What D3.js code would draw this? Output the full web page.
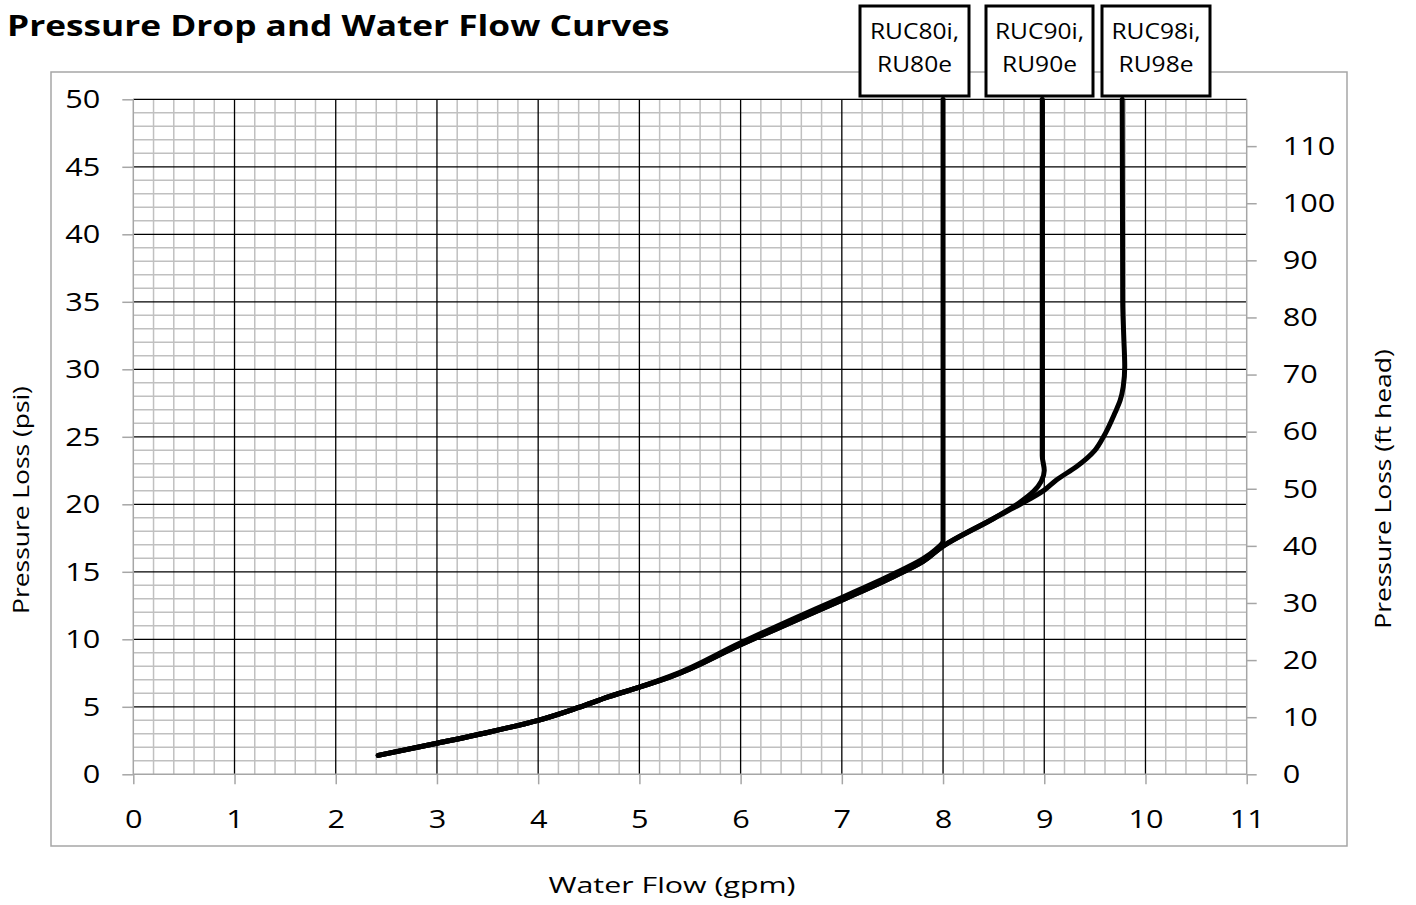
<!DOCTYPE html>
<html>
<head>
<meta charset="utf-8">
<script src="https://cdn.jsdelivr.net/npm/d3@7"></script>
<style>
  body { margin: 0; background: #fff; }
  svg { display: block; font-family: "Open Sans", sans-serif; }
</style>
</head>
<body>
<svg id="chart" width="1416" height="905"></svg>
<script>
// Axis ticks
const flowTicks = [0, 1, 2, 3, 4, 5, 6, 7, 8, 9, 10, 11];
const psiTicks = [0, 5, 10, 15, 20, 25, 30, 35, 40, 45, 50];
const headTicks = [0, 10, 20, 30, 40, 50, 60, 70, 80, 90, 100, 110];

// Model labels
const modelLabels = [["RUC80i,", "RU80e"], ["RUC90i,", "RU90e"], ["RUC98i,", "RU98e"]];

// RUC80i / RU80e : flow (gpm) and pressure loss (psi)
const ruc80Flow = [2.42, 3.0, 3.5, 4.0, 4.4, 4.7, 5.0, 5.3, 6.0, 6.5, 7.0, 7.5, 7.8, 7.92, 8.0, 8.0, 8.0];
const ruc80Psi  = [1.4, 2.3, 3.1, 4.0, 4.95, 5.75, 6.45, 7.25, 9.75, 11.45, 13.1, 14.8, 15.95, 16.6, 17.3, 18.5, 50];

// RUC90i / RU90e
const ruc90Flow = [2.42, 3.0, 3.5, 4.0, 4.4, 4.7, 5.0, 5.3, 6.0, 6.5, 7.0, 7.5, 7.8, 8.0, 8.5, 8.75, 8.9, 8.97, 9.0, 8.98, 8.98];
const ruc90Psi  = [1.4, 2.3, 3.1, 4.0, 4.95, 5.75, 6.45, 7.2, 9.6, 11.25, 12.9, 14.6, 15.75, 16.9, 18.95, 20.1, 21.0, 21.7, 22.5, 23.6, 50];

// RUC98i / RU98e
const ruc98Flow = [2.42, 3.0, 3.5, 4.0, 4.4, 4.7, 5.0, 5.3, 6.0, 6.5, 7.0, 7.5, 7.8, 8.0, 8.5, 8.75, 9.0, 9.12, 9.32, 9.5, 9.585, 9.7, 9.75, 9.78, 9.795, 9.785, 9.775, 9.77];
const ruc98Psi  = [1.4, 2.3, 3.1, 4.0, 4.95, 5.75, 6.45, 7.2, 9.6, 11.25, 12.9, 14.6, 15.75, 16.9, 18.95, 19.95, 21.05, 21.8, 22.8, 24.0, 25.0, 26.8, 27.7, 28.7, 30.2, 32.5, 35.0, 50];

const seriesList = [
  { flow: ruc80Flow, psi: ruc80Psi },
  { flow: ruc90Flow, psi: ruc90Psi },
  { flow: ruc98Flow, psi: ruc98Psi }
];

const svg = d3.select("#chart");

// Plot area geometry
const plot = { left: 133.3, right: 1246.7, top: 99.3, bottom: 774.3 };

const x = d3.scaleLinear().domain([0, 11]).range([plot.left, plot.right]);
const y = d3.scaleLinear().domain([0, 50]).range([plot.bottom, plot.top]);
// Right axis: feet of head
const yHead = d3.scaleLinear().domain([0, 118.2]).range([plot.bottom, plot.top]);

// Widen a text element horizontally about its own anchor point
function widen(sel, sx) {
  sel.each(function() {
    const t = d3.select(this);
    const tx = +t.attr("x") || 0;
    const ty = +t.attr("y") || 0;
    const base = t.attr("data-base") || "";
    t.attr("x", 0).attr("y", 0)
      .attr("transform", `${base} translate(${tx},${ty}) scale(${sx},1)`);
  });
}

// Chart frame
svg.append("rect")
  .attr("x", 51).attr("y", 72).attr("width", 1296).attr("height", 774)
  .attr("fill", "#fff").attr("stroke", "#a6a6a6").attr("stroke-width", 1.5);

// Title
svg.append("text")
  .attr("x", 7).attr("y", 36)
  .attr("font-size", 28).attr("font-weight", 700)
  .text("Pressure Drop and Water Flow Curves")
  .call(widen, 1.26);

const grid = svg.append("g");

// Minor gridlines
const minorFlow = d3.range(1, 55).map(i => i * 0.2).filter(v => Math.abs(v - Math.round(v)) > 1e-6);
const minorPsi = d3.range(1, 50).filter(v => v % 5 !== 0);

grid.selectAll(".mv").data(minorFlow).join("line")
  .attr("x1", d => x(d)).attr("x2", d => x(d))
  .attr("y1", y(0)).attr("y2", y(50))
  .attr("stroke", "#c0c0c0").attr("stroke-width", 1.5);

grid.selectAll(".mh").data(minorPsi).join("line")
  .attr("x1", x(0)).attr("x2", x(11))
  .attr("y1", d => y(d)).attr("y2", d => y(d))
  .attr("stroke", "#c0c0c0").attr("stroke-width", 1.5);

// Major gridlines
grid.selectAll(".Mv").data(flowTicks.filter(d => d > 0 && d < 11)).join("line")
  .attr("x1", d => x(d)).attr("x2", d => x(d))
  .attr("y1", y(0)).attr("y2", y(50))
  .attr("stroke", "#000").attr("stroke-width", 1.3);

grid.selectAll(".Mh").data(psiTicks.filter(d => d > 0)).join("line")
  .attr("x1", x(0)).attr("x2", x(11))
  .attr("y1", d => y(d)).attr("y2", d => y(d))
  .attr("stroke", "#000").attr("stroke-width", 1.3);

// Axes
function styleAxis(g) {
  g.select(".domain").remove();
  g.selectAll(".tick line").attr("stroke", "#a6a6a6").attr("stroke-width", 1.5);
  g.selectAll(".tick text")
    .attr("font-family", "Open Sans, sans-serif").attr("font-size", 26).attr("fill", "#000")
    .call(widen, 1.18);
}

const axisLine = (x1, y1, x2, y2) => svg.append("line")
  .attr("x1", x1).attr("y1", y1).attr("x2", x2).attr("y2", y2)
  .attr("stroke", "#a6a6a6").attr("stroke-width", 1.5);

axisLine(x(0), y(0), x(11), y(0));
axisLine(x(0), y(0), x(0), y(50));
axisLine(x(11), y(0), x(11), y(50));

svg.append("g").attr("transform", `translate(0,${plot.bottom})`)
  .call(d3.axisBottom(x).tickValues(flowTicks).tickSize(10).tickPadding(25).tickFormat(d3.format("d")))
  .call(styleAxis);

svg.append("g").attr("transform", `translate(${plot.left},0)`)
  .call(d3.axisLeft(y).tickValues(psiTicks).tickSize(11).tickPadding(22).tickFormat(d3.format("d")))
  .call(styleAxis);

svg.append("g").attr("transform", `translate(${plot.right},0)`)
  .call(d3.axisRight(yHead).tickValues(headTicks).tickSize(10).tickPadding(26).tickFormat(d3.format("d")))
  .call(styleAxis);

// Axis titles
svg.append("text")
  .attr("x", 672).attr("y", 893).attr("text-anchor", "middle")
  .attr("font-size", 22).text("Water Flow (gpm)")
  .call(widen, 1.38);

svg.append("text")
  .attr("data-base", "translate(29,500) rotate(-90)").attr("text-anchor", "middle")
  .attr("font-size", 22).text("Pressure Loss (psi)")
  .call(widen, 1.2);

svg.append("text")
  .attr("data-base", "translate(1391,489) rotate(-90)").attr("text-anchor", "middle")
  .attr("font-size", 22).text("Pressure Loss (ft head)")
  .call(widen, 1.2);

// Curves
const line = d3.line()
  .x(d => x(d[0])).y(d => y(d[1]))
  .curve(d3.curveMonotoneY);

svg.append("g").selectAll("path").data(seriesList).join("path")
  .attr("d", s => line(s.flow.map((f, i) => [f, s.psi[i]])))
  .attr("fill", "none").attr("stroke", "#000").attr("stroke-width", 5)
  .attr("stroke-linejoin", "round").attr("stroke-linecap", "round");

// Model label boxes above the vertical parts of the curves
const boxes = [
  { left: 860, right: 969 },
  { left: 986, right: 1093 },
  { left: 1102, right: 1210 }
];
const boxG = svg.append("g").selectAll("g").data(modelLabels).join("g");
boxG.append("rect")
  .attr("x", (d, i) => boxes[i].left).attr("y", 6)
  .attr("width", (d, i) => boxes[i].right - boxes[i].left).attr("height", 90)
  .attr("fill", "#fff").attr("stroke", "#000").attr("stroke-width", 3);
boxG.each(function(d, i) {
  const cx = (boxes[i].left + boxes[i].right) / 2;
  d3.select(this).selectAll("text").data(d).join("text")
    .attr("x", cx).attr("y", (t, j) => 39 + j * 33)
    .attr("text-anchor", "middle").attr("font-size", 21)
    .text(t => t)
    .call(widen, 1.17);
});
</script>
</body>
</html>
